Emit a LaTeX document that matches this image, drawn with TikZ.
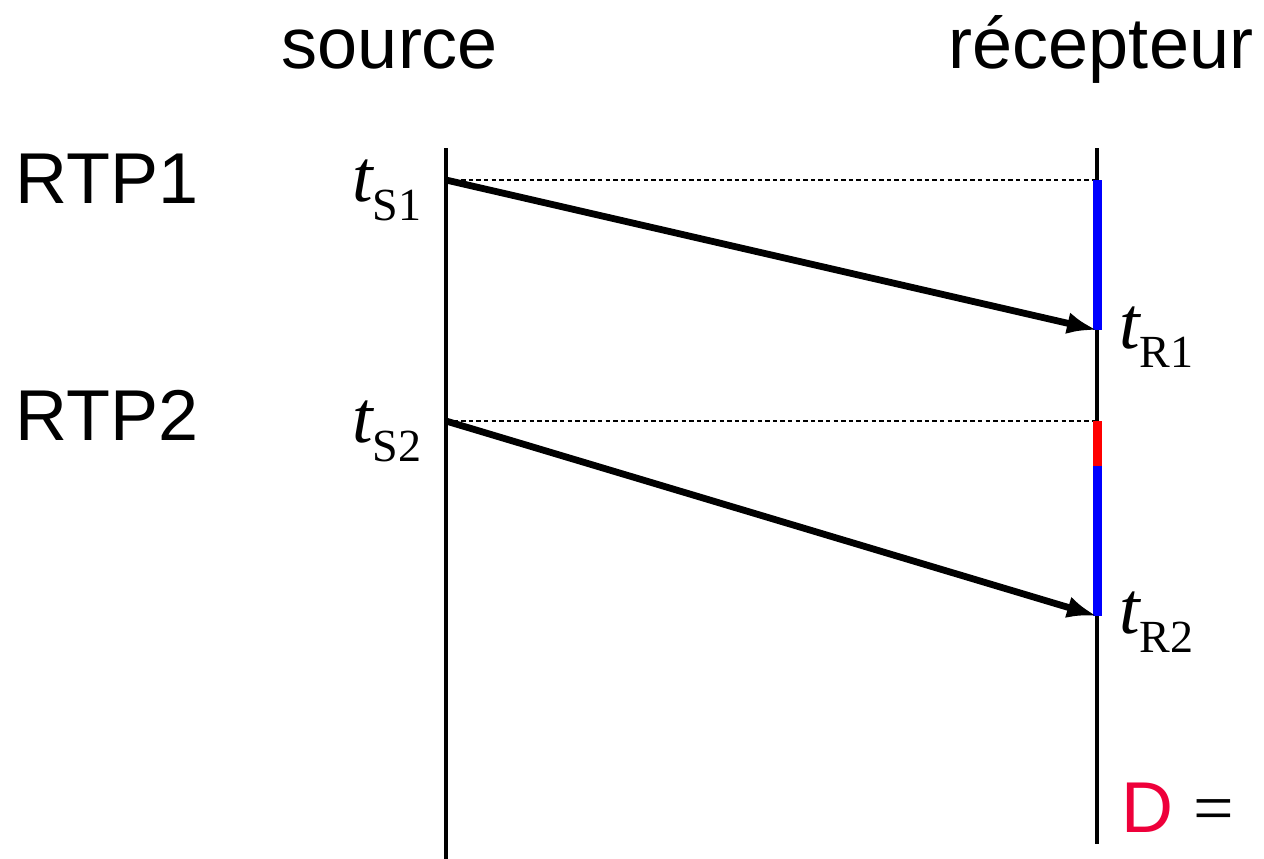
\documentclass[tikz,border=0pt]{standalone}
\usepackage{fontspec}
\setmainfont{Liberation Sans}
\newfontfamily\stampfont{Liberation Serif}
\usetikzlibrary{arrows.meta,positioning}
\definecolor{dred}{RGB}{238,0,58}
\newcommand{\tstamp}[1]{{\stampfont\itshape t}{\stampfont\fontsize{23}{26}\selectfont\raisebox{-9.5pt}{#1}}}

\begin{document}
\begin{tikzpicture}[x=0.5pt, y=-0.5pt,
    every node/.style={inner sep=0pt, font=\fontsize{36}{40}\selectfont},
    timeline/.style={line width=2pt},
    packet/.style={line width=3.4pt, -{Latex[length=15pt,width=11pt]}},
    stamp/.style={line width=0.75pt, dash pattern=on 2.2pt off 1.6pt},
    stampnode/.style={font=\fontsize{37}{40}\selectfont}]
  \useasboundingbox (0,0) rectangle (1264,858);
  \coordinate (srctop) at (446,148);
  \coordinate (srcbot) at (446,860);
  \coordinate (rcvtop) at (1097,148);
  \coordinate (rcvbot) at (1097,844);
  \coordinate (s1) at (446,180);
  \coordinate (a1) at (1097,180);
  \coordinate (r1) at (1097,330);
  \coordinate (s2) at (446,421);
  \coordinate (a2) at (1097,421);
  \coordinate (w2) at (1097,466);
  \coordinate (r2) at (1097,616);
  \draw[timeline] (srctop) -- (srcbot);
  \draw[timeline] (rcvtop) -- (rcvbot);
  \draw[stamp] (s1) -- (a1);
  \draw[stamp] (s2) -- (a2);
  \draw[line width=4.5pt, blue] (a1) -- (r1);
  \draw[line width=4.5pt, red] (a2) -- (w2);
  \draw[line width=4.5pt, blue] (w2) -- (r2);
  \draw[packet] (s1) -- (r1);
  \draw[packet] (s2) -- (r2);
  \node[anchor=base] (source) at (390,68) {source};
  \node[anchor=base] (recepteur) at (1101,68) {récepteur};
  \node[anchor=base west] (rtp1) at (15,203) {RTP1};
  \node[anchor=base west] (rtp2) at (15,440) {RTP2};
  \node[stampnode, anchor=base west] (ts1) at (352,201) {\tstamp{S1}};
  \node[stampnode, anchor=base west] (ts2) at (352,442) {\tstamp{S2}};
  \node[stampnode, anchor=base west] (tr1) at (1119,348) {\tstamp{R1}};
  \node[stampnode, anchor=base west] (tr2) at (1119,633) {\tstamp{R2}};
  \node[anchor=base west] (delay) at (1121,832) {\textcolor{dred}{D} {\stampfont =}};
\end{tikzpicture}
\end{document}
